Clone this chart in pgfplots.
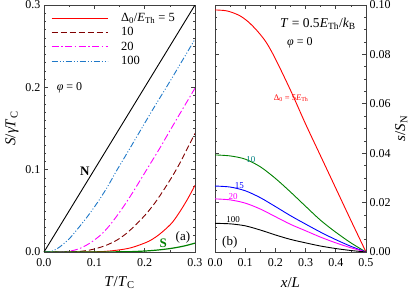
\documentclass[border=0pt]{standalone}
\usepackage{fontspec}
\setmainfont{Liberation Serif}
\usepackage{pgfplots}
\pgfplotsset{compat=1.18}
\definecolor{myred}{RGB}{255,0,0}
\definecolor{mybrown}{RGB}{128,0,0}
\definecolor{mymag}{RGB}{255,0,255}
\definecolor{myblue}{RGB}{30,120,200}
\definecolor{mygreen}{RGB}{0,128,0}
\definecolor{myteal}{RGB}{0,128,128}
\definecolor{myblue2}{RGB}{0,0,255}
\pgfplotsset{
 common/.style={scale only axis, width=151pt, height=247pt,
  axis line style={line width=0.9pt, black!75},
  every tick/.style={black!75, line width=0.6pt},
  tick align=inside, major tick length=4pt, minor tick length=2.2pt,
  tick label style={font=\fontsize{12}{14}\selectfont},
  xticklabel style={yshift=-2.5pt},
  /pgf/number format/assume math mode=true,
  label style={font=\fontsize{15}{17}\selectfont},
  every axis plot/.append style={line width=0.9pt},
 }
}
\begin{document}
\begin{tikzpicture}[x=1pt,y=1pt]
\useasboundingbox (0,0) rectangle (415,297);
\begin{axis}[common, at={(44pt,45pt)}, anchor=south west,
  xmin=0, xmax=0.3, ymin=0, ymax=0.3,
  xtick={0,0.1,0.2,0.3}, ytick={0,0.1,0.2,0.3},
  minor x tick num=1, minor y tick num=9,
  xticklabel style={/pgf/number format/.cd,fixed,fixed zerofill,precision=1},
  yticklabel style={/pgf/number format/.cd,fixed,fixed zerofill,precision=1},
  xlabel={\textit{T}/\textit{T}\textsubscript{C}},
  ylabel={\textit{S}/\textit{γT}\textsubscript{C}},
  xlabel style={at={(axis description cs:0.5,-0.1255)}, anchor=center},
  ylabel style={at={(axis description cs:-0.212,0.5)}, anchor=center},
  legend image code/.code={\draw[#1] (0pt,0pt) -- (56pt,0pt);},
  legend cell align=left,
  legend style={draw=none, fill=none, at={(axis description cs:0.046,0.975)}, anchor=north west,
    font=\fontsize{12.5}{14}\selectfont, row sep=0.5pt, inner sep=0pt,
    /tikz/every odd column/.style={column sep=11pt}},
]
\addplot[myred, smooth, tension=0.5] coordinates {(0,0)(0.1,0.0003)(0.13,0.0012)(0.158,0.0033)(0.175,0.0055)(0.191,0.0088)(0.208,0.013)(0.224,0.019)(0.24,0.027)(0.255,0.036)(0.27,0.049)(0.285,0.064)(0.3,0.081)};
\addplot[mybrown, dash pattern=on 6pt off 3pt, smooth, tension=0.5] coordinates {(0,0)(0.06,0.0003)(0.075,0.001)(0.091,0.0024)(0.108,0.005)(0.125,0.0085)(0.145,0.0145)(0.164,0.0227)(0.184,0.034)(0.204,0.047)(0.222,0.061)(0.24,0.0774)(0.255,0.092)(0.27,0.108)(0.285,0.126)(0.3,0.144)};
\addplot[mymag, dash pattern=on 7pt off 2.5pt on 1.5pt off 2.5pt, smooth, tension=0.5] coordinates {(0,0)(0.04,0.0004)(0.055,0.0015)(0.07,0.004)(0.085,0.0085)(0.1,0.0145)(0.115,0.022)(0.13,0.032)(0.145,0.044)(0.16,0.057)(0.177,0.073)(0.195,0.091)(0.211,0.107)(0.23,0.126)(0.247,0.144)(0.27,0.168)(0.3,0.199)};
\addplot[myblue, dash pattern=on 6pt off 2pt on 1pt off 2pt on 1pt off 2pt, smooth, tension=0.5] coordinates {(0,0)(0.01,0.0002)(0.02,0.002)(0.032,0.0065)(0.05,0.016)(0.065,0.0267)(0.085,0.042)(0.105,0.059)(0.125,0.078)(0.144,0.0985)(0.165,0.12)(0.191,0.147)(0.22,0.177)(0.25,0.207)(0.3,0.2585)};
\addplot[black, forget plot] coordinates {(0,0)(0.3,0.3)};
\addplot[mygreen, line width=1.2pt, smooth, tension=0.5, forget plot] coordinates {(0,0)(0.15,0.0002)(0.18,0.0006)(0.211,0.0016)(0.235,0.003)(0.257,0.0048)(0.28,0.0075)(0.3,0.0108)};
\legend{Δ\textsubscript{0}/\textit{E}\textsubscript{Th} = 5, 10, 20, 100}
\node[font=\fontsize{13}{15}\selectfont\bfseries] at (axis cs:0.081,0.0976) {N};
\node[font=\fontsize{13}{15}\selectfont\bfseries, text=mygreen] at (axis cs:0.237,0.0105) {S};
\node[font=\fontsize{13}{15}\selectfont] at (axis cs:0.276,0.018) {(a)};
\node[font=\fontsize{12}{14}\selectfont] at (axis cs:0.0507,0.199) {\textit{φ} = 0};
\end{axis}
\begin{axis}[common, at={(215pt,45pt)}, anchor=south west,
  xmin=0, xmax=0.5, ymin=0, ymax=0.1,
  xtick={0,0.1,0.2,0.3,0.4,0.5}, ytick={0,0.02,0.04,0.06,0.08,0.1},
  minor x tick num=1, minor y tick num=3,
  yticklabel pos=right,
  xticklabel style={/pgf/number format/.cd,fixed,fixed zerofill,precision=1},
  yticklabel style={/pgf/number format/.cd,fixed,fixed zerofill,precision=2},
  xlabel={\textit{x}/\textit{L}},
  ylabel={\textit{s}/\textit{S}\textsubscript{N}},
  xlabel style={at={(axis description cs:0.5,-0.1255)}, anchor=center},
  ylabel style={at={(axis description cs:1.234,0.5)}, anchor=center},
]
\addplot[myred, smooth] coordinates {(0,0.098)(0.04,0.0976)(0.08,0.0958)(0.11,0.0932)(0.14,0.0895)(0.17,0.0848)(0.2,0.0782)(0.25,0.0655)(0.3,0.0518)(0.35,0.0388)(0.4,0.0258)(0.45,0.0128)(0.5,0)};
\addplot[mygreen, smooth] coordinates {(0,0.0393)(0.05,0.0389)(0.1,0.0376)(0.15,0.0345)(0.2,0.0298)(0.25,0.0243)(0.3,0.0185)(0.35,0.0128)(0.4,0.008)(0.45,0.0037)(0.5,0)};
\addplot[myblue2, smooth] coordinates {(0,0.0267)(0.05,0.0263)(0.1,0.0248)(0.15,0.022)(0.2,0.0184)(0.25,0.0147)(0.3,0.0113)(0.35,0.008)(0.4,0.005)(0.45,0.0023)(0.5,0)};
\addplot[mymag, smooth] coordinates {(0,0.0215)(0.05,0.0211)(0.1,0.0198)(0.15,0.0174)(0.2,0.0143)(0.25,0.0112)(0.3,0.0086)(0.35,0.006)(0.4,0.0037)(0.45,0.0017)(0.5,0)};
\addplot[black, smooth] coordinates {(0,0.0116)(0.05,0.0114)(0.1,0.0106)(0.15,0.0089)(0.2,0.0069)(0.25,0.0051)(0.3,0.0037)(0.35,0.0024)(0.4,0.0014)(0.45,0.0006)(0.5,0)};
\node[font=\fontsize{13.5}{15}\selectfont] at (axis cs:0.341,0.0923) {\textit{T} = 0.5\textit{E}\textsubscript{Th}/\textit{k}\textsubscript{B}};
\node[font=\fontsize{12}{14}\selectfont] at (axis cs:0.281,0.0846) {\textit{φ} = 0};
\node[font=\fontsize{8.5}{10}\selectfont, text=myred] at (axis cs:0.252,0.0622) {Δ\textsubscript{0} = 5\textit{E}\textsubscript{Th}};
\node[font=\fontsize{9}{11}\selectfont, text=myteal] at (axis cs:0.119,0.0375) {10};
\node[font=\fontsize{9}{11}\selectfont, text=myblue2] at (axis cs:0.081,0.0267) {15};
\node[font=\fontsize{9}{11}\selectfont, text=mymag] at (axis cs:0.06,0.0224) {20};
\node[font=\fontsize{9}{11}\selectfont] at (axis cs:0.06,0.0132) {100};
\node[font=\fontsize{13}{15}\selectfont] at (axis cs:0.049,0.0039) {(b)};
\end{axis}
\end{tikzpicture}
\end{document}
